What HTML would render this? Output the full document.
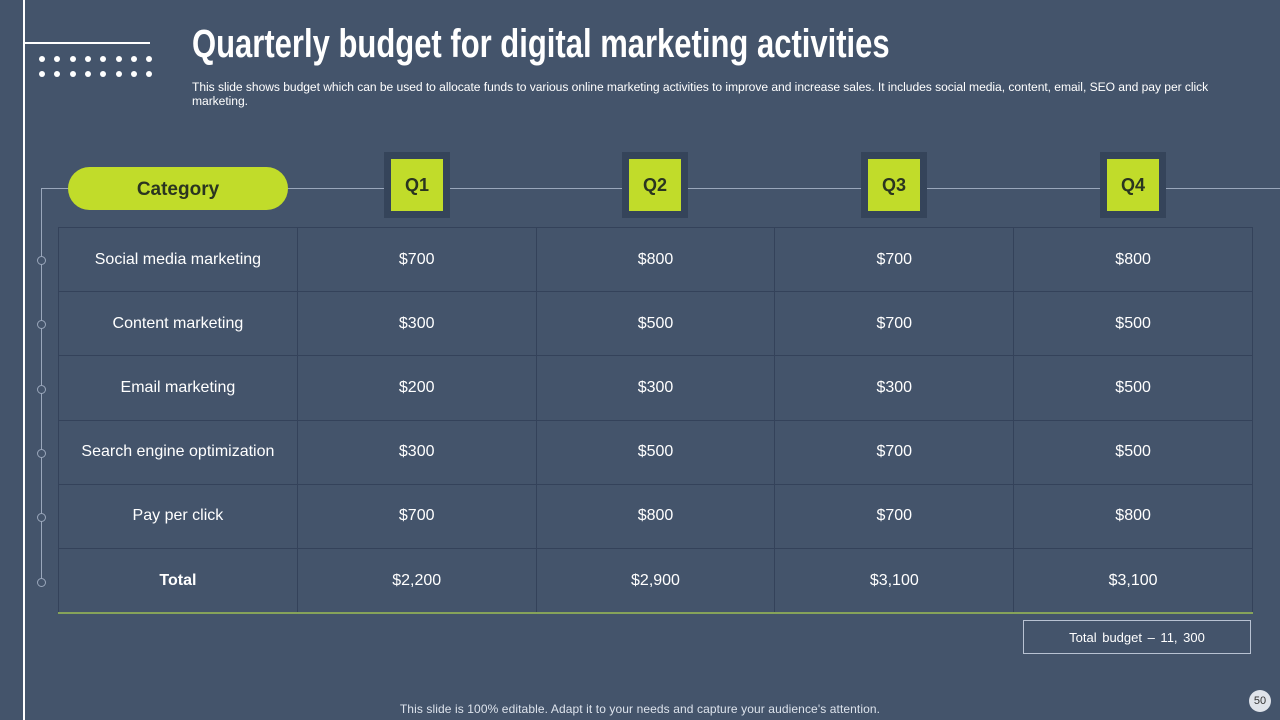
<!DOCTYPE html>
<html><head><meta charset="utf-8"><style>
body{margin:0;width:1280px;height:720px;background:#44546b;position:relative;overflow:hidden;font-family:"Liberation Sans",sans-serif;color:#fff}
.abs{position:absolute}
.title{left:192px;top:22px;font-family:"Liberation Sans Narrow","Liberation Sans",sans-serif;font-stretch:condensed;font-weight:bold;font-size:40px;letter-spacing:0px;transform:scaleX(0.775);transform-origin:left;white-space:nowrap}
.sub{left:192px;top:80px;width:1030px;font-size:12.1px;line-height:14px;letter-spacing:-0.05px}
.dot{width:6px;height:6px;border-radius:50%;background:#fff}
.qo{width:66px;height:66px;background:#35445a}
.qi{position:absolute;left:7px;top:7px;width:52px;height:52px;background:#c1dc2a;color:#2a3520;font-weight:bold;font-size:18px;display:flex;align-items:center;justify-content:center}
table{position:absolute;left:58px;top:227px;width:1195px;border-collapse:collapse}
td{border:1px solid #34425a;height:63.2px;text-align:center;font-size:16px;padding:0;width:20%}
.ring{width:7px;height:7px;border:1px solid #9aa7bb;border-radius:50%;background:#44546b}
</style></head><body>
<div class="abs" style="left:23px;top:0;width:2px;height:720px;background:#fff"></div>
<div class="abs" style="left:25px;top:42px;width:125px;height:2px;background:#fff"></div>
<div id="dots"></div>
<div class="abs title">Quarterly budget for digital marketing activities</div>
<div class="abs sub">This slide shows budget which can be used to allocate funds to various online marketing activities to improve and increase sales. It includes social media, content, email, SEO and pay per click marketing.</div>
<div class="abs" style="left:41px;top:188px;width:1239px;height:1px;background:#9aa7bb"></div>
<div class="abs" style="left:41px;top:188px;width:1px;height:396px;background:#9aa7bb"></div>
<div id="rings"></div>
<div class="abs" style="left:68px;top:167px;width:220px;height:43px;border-radius:22px;background:#c1dc2a;color:#2a3520;font-weight:bold;font-size:19px;display:flex;align-items:center;justify-content:center;padding-top:3px;box-sizing:border-box">Category</div>
<div class="abs qo" style="left:384px;top:152px"><div class="qi">Q1</div></div>
<div class="abs qo" style="left:622px;top:152px"><div class="qi">Q2</div></div>
<div class="abs qo" style="left:861px;top:152px"><div class="qi">Q3</div></div>
<div class="abs qo" style="left:1100px;top:152px"><div class="qi">Q4</div></div>
<table>
<tr><td>Social media marketing</td><td>$700</td><td>$800</td><td>$700</td><td>$800</td></tr>
<tr><td>Content marketing</td><td>$300</td><td>$500</td><td>$700</td><td>$500</td></tr>
<tr><td>Email marketing</td><td>$200</td><td>$300</td><td>$300</td><td>$500</td></tr>
<tr><td>Search engine optimization</td><td>$300</td><td>$500</td><td>$700</td><td>$500</td></tr>
<tr><td>Pay per click</td><td>$700</td><td>$800</td><td>$700</td><td>$800</td></tr>
<tr><td style="font-weight:bold">Total</td><td>$2,200</td><td>$2,900</td><td>$3,100</td><td>$3,100</td></tr>
</table>
<div class="abs" style="left:58px;top:612px;width:1195px;height:2px;background:#86a35a"></div>
<div class="abs" style="left:1023px;top:620px;width:226px;height:32px;border:1px solid #b8c2d2;font-size:13px;display:flex;align-items:center;justify-content:center;word-spacing:2px">Total budget – 11, 300</div>
<div class="abs" style="left:0;width:1280px;top:702px;text-align:center;font-size:12px;color:#dde3ec;letter-spacing:0.1px">This slide is 100% editable. Adapt it to your needs and capture your audience's attention.</div>
<div class="abs" style="left:1249px;top:690px;width:22px;height:22px;border-radius:50%;background:#dfe3ea;color:#333;font-size:11px;display:flex;align-items:center;justify-content:center">50</div>
<script>
var d=document.getElementById('dots');
for(var r=0;r<2;r++)for(var c=0;c<8;c++){var e=document.createElement('div');e.className='abs dot';


e.style.left=(39+c*15.3)+'px';e.style.top=(56+r*15)+'px';d.appendChild(e);}
var rg=document.getElementById('rings');
for(var i=0;i<6;i++){var e=document.createElement('div');e.className='abs ring';


e.style.left='37px';e.style.top=(256+i*64.3)+'px';rg.appendChild(e);}
</script>
</body></html>
